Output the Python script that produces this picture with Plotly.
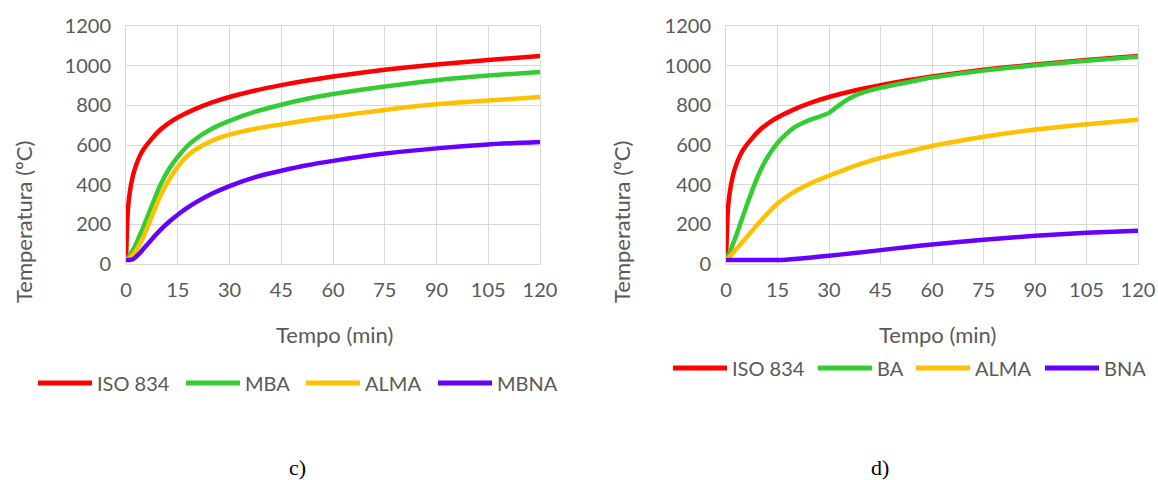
import plotly.graph_objects as go

# ---------------- data ----------------
# Chart c)
t_iso = [0, 0.5, 1, 2, 3, 4, 5, 7.5, 10, 12.5, 15, 20, 25, 30, 37.5, 45, 52.5, 60, 75, 90, 105, 120]
iso_834 = [20, 261, 349, 445, 502, 544, 576, 632, 678, 712, 739, 781, 815, 842, 875, 902, 925, 945, 979, 1006, 1029, 1049]

t_c = [0, 1, 2, 3, 4, 5, 7.5, 10, 12.5, 15, 17.5, 20, 25, 30, 37.5, 45, 52.5, 60, 75, 90, 105, 120]
mba_c = [20, 40, 70, 105, 145, 185, 295, 400, 480, 540, 590, 628, 683, 722, 768, 803, 833, 857, 895, 927, 950, 968]
alma_c = [20, 28, 45, 70, 100, 135, 240, 345, 425, 490, 540, 575, 622, 652, 682, 704, 725, 743, 777, 805, 824, 842]
mbna_c = [20, 20, 24, 38, 55, 75, 125, 172, 213, 248, 280, 308, 355, 393, 438, 470, 498, 520, 557, 583, 603, 615]

# Chart d)
t_ba = [0, 0.5, 1, 2, 3, 4, 5, 7.5, 10, 12.5, 15, 17.5, 20, 22.5, 25, 27.5, 30, 32.5, 35, 37.5, 40, 45, 52.5, 60, 75, 90, 105, 120]
ba_d = [20, 35, 55, 100, 145, 195, 245, 365, 470, 550, 610, 655, 690, 712, 730, 745, 762, 795, 825, 848, 865, 888, 915, 940, 975, 1002, 1025, 1045]

t_alma_d = [0, 1, 2, 3, 4, 5, 7.5, 10, 12.5, 15, 20, 25, 30, 37.5, 45, 52.5, 60, 75, 90, 105, 120]
alma_d = [20, 35, 55, 75, 95, 115, 165, 215, 262, 305, 365, 410, 445, 495, 535, 565, 595, 642, 678, 705, 727]

t_bna_d = [0, 5, 10, 15, 17.5, 20, 25, 30, 37.5, 45, 52.5, 60, 75, 90, 105, 120]
bna_d = [20, 20, 20, 20, 22, 25, 33, 42, 55, 70, 85, 98, 122, 142, 157, 168]

x_ticks = [0, 15, 30, 45, 60, 75, 90, 105, 120]
y_ticks = [0, 200, 400, 600, 800, 1000, 1200]

names_c = ["ISO 834", "MBA", "ALMA", "MBNA"]
names_d = ["ISO 834", "BA", "ALMA", "BNA"]
colors = ["#FF0000", "#33CC33", "#FFC000", "#6600FF"]

# ---------------- figure ----------------
W, H = 1158, 480
FONT = "Lato"
GRAY = "#595959"
GRID = "#D9D9D9"

fig = go.Figure()

series_c = [(t_iso, iso_834), (t_c, mba_c), (t_c, alma_c), (t_c, mbna_c)]
series_d = [(t_iso, iso_834), (t_ba, ba_d), (t_alma_d, alma_d), (t_bna_d, bna_d)]

for (tx, ty), name, col in zip(series_c, names_c, colors):
    fig.add_trace(go.Scatter(x=tx, y=ty, name=name, mode="lines", showlegend=False,
                             line=dict(color=col, width=4.5, shape="spline", smoothing=0.6),
                             xaxis="x", yaxis="y"))
for (tx, ty), name, col in zip(series_d, names_d, colors):
    fig.add_trace(go.Scatter(x=tx, y=ty, name=name, mode="lines", showlegend=False,
                             line=dict(color=col, width=4.5, shape="spline", smoothing=0.6),
                             xaxis="x2", yaxis="y2"))

def px_x(p):
    return p / W

def px_y(p):
    return 1 - p / H

axis_common = dict(showgrid=True, gridcolor=GRID, gridwidth=1, zeroline=False,
                   showline=True, linecolor=GRID, linewidth=1, mirror=True,
                   ticks="", tickfont=dict(family=FONT, size=20, color=GRAY))

fig.update_layout(
    width=W, height=H,
    margin=dict(l=0, r=0, t=0, b=0, autoexpand=False),
    paper_bgcolor="white", plot_bgcolor="white",
    font=dict(family=FONT, color=GRAY),
    showlegend=False,
    xaxis=dict(domain=[px_x(126), px_x(540)], range=[0, 120], tickvals=x_ticks,
               anchor="y", ticklabelstandoff=8, **axis_common),
    yaxis=dict(domain=[px_y(264), px_y(26)], range=[0, 1200], tickvals=y_ticks,
               anchor="x", ticklabelstandoff=10, **axis_common),
    xaxis2=dict(domain=[px_x(726), px_x(1138)], range=[0, 120], tickvals=x_ticks,
                anchor="y2", ticklabelstandoff=8, **axis_common),
    yaxis2=dict(domain=[px_y(264), px_y(26)], range=[0, 1200], tickvals=y_ticks,
                anchor="x2", ticklabelstandoff=10, **axis_common),
)

def label(text, x, y, size=21, family=FONT, color=GRAY, angle=0, xanchor="center"):
    return dict(text=text, x=px_x(x), y=px_y(y), textangle=angle, showarrow=False,
                xref="paper", yref="paper", xanchor=xanchor, yanchor="middle",
                font=dict(family=family, size=size, color=color))

annotations = [
    label("Temperatura (ºC)", 23, 222, size=22, angle=-90),
    label("Temperatura (ºC)", 621, 222, size=22, angle=-90),
    label("Tempo (min)", 334, 334, size=22),
    label("Tempo (min)", 937, 334, size=22),
    label("c)", 297, 467, size=22, family="Liberation Serif", color="black"),
    label("d)", 880, 467, size=22, family="Liberation Serif", color="black"),
]

# Excel-style legends (long line keys), one per panel
shapes = []
legend_c = dict(y=383, starts=[38, 186, 306, 438])
legend_d = dict(y=368, starts=[673, 818, 916, 1045])
KEY_LEN = 54
for leg, names in ((legend_c, names_c), (legend_d, names_d)):
    for name, col, x0 in zip(names, colors, leg["starts"]):
        shapes.append(dict(type="line", xref="paper", yref="paper",
                           x0=px_x(x0), x1=px_x(x0 + KEY_LEN),
                           y0=px_y(leg["y"]), y1=px_y(leg["y"]),
                           line=dict(color=col, width=5)))
        annotations.append(label(name, x0 + KEY_LEN + 3, leg["y"], size=20,
                                 xanchor="left"))

fig.update_layout(annotations=annotations, shapes=shapes)

fig.write_html("out.html", config={"displayModeBar": False},
               post_script="document.body.style.margin='0';document.body.style.padding='0';"
                           "document.body.style.overflow='hidden';")
